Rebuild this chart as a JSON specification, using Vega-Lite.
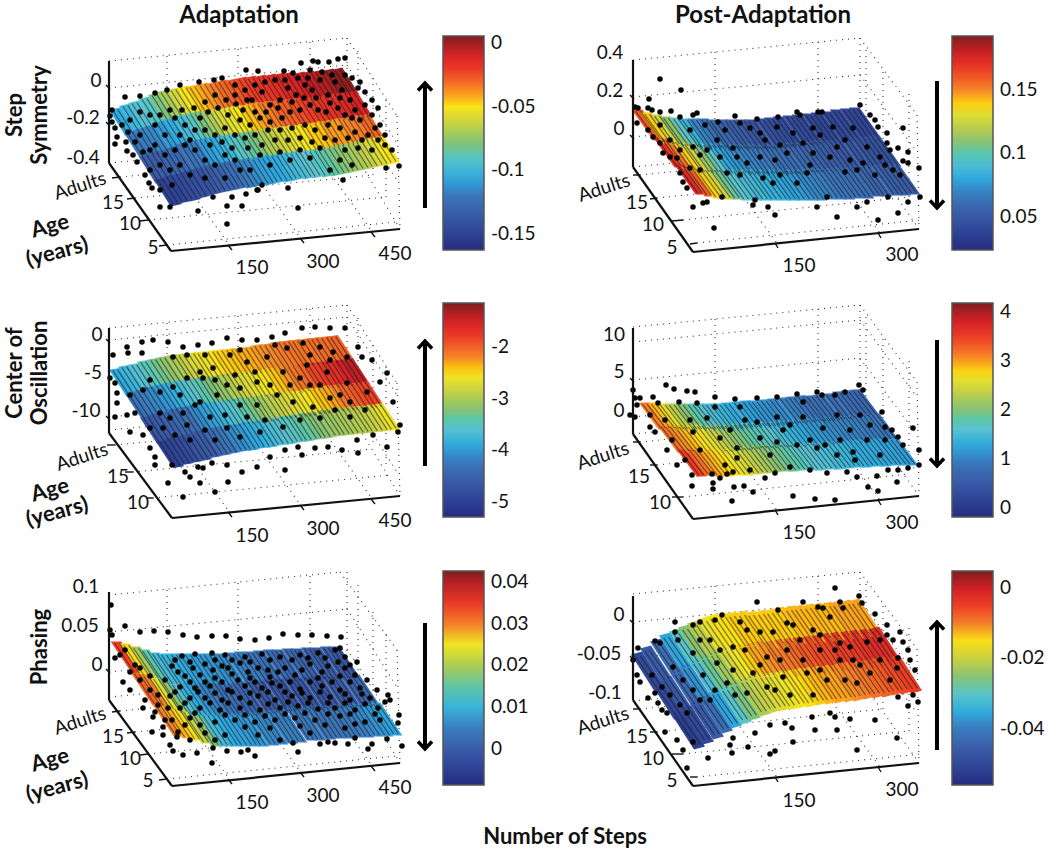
{"$schema":"https://vega.github.io/schema/vega-lite/v6.json","width":1050,"height":851,"autosize":{"type":"fit","contains":"padding"},"padding":0,"background":"white","config":{"view":{"stroke":null}},
"datasets":{
"s1":[{"x":123,"y":122,"v":-0.105},{"x":138,"y":145,"v":-0.12},{"x":153,"y":169,"v":-0.135},{"x":168,"y":192,"v":-0.15},{"x":133,"y":118,"v":-0.1},{"x":148,"y":142,"v":-0.118},{"x":162,"y":165,"v":-0.133},{"x":177,"y":189,"v":-0.148},{"x":142,"y":115,"v":-0.095},{"x":157,"y":139,"v":-0.115},{"x":172,"y":163,"v":-0.13},{"x":187,"y":187,"v":-0.145},{"x":152,"y":111,"v":-0.09},{"x":167,"y":135,"v":-0.11},{"x":181,"y":160,"v":-0.127},{"x":196,"y":184,"v":-0.142},{"x":162,"y":107,"v":-0.08},{"x":177,"y":132,"v":-0.105},{"x":191,"y":156,"v":-0.122},{"x":206,"y":181,"v":-0.14},{"x":171,"y":104,"v":-0.07},{"x":186,"y":129,"v":-0.098},{"x":200,"y":154,"v":-0.118},{"x":215,"y":179,"v":-0.135},{"x":181,"y":102,"v":-0.06},{"x":196,"y":127,"v":-0.09},{"x":210,"y":152,"v":-0.11},{"x":225,"y":177,"v":-0.13},{"x":191,"y":100,"v":-0.05},{"x":205,"y":125,"v":-0.08},{"x":220,"y":150,"v":-0.105},{"x":234,"y":175,"v":-0.125},{"x":200,"y":99,"v":-0.045},{"x":215,"y":124,"v":-0.07},{"x":229,"y":149,"v":-0.1},{"x":244,"y":174,"v":-0.12},{"x":210,"y":97,"v":-0.04},{"x":224,"y":122,"v":-0.06},{"x":239,"y":147,"v":-0.09},{"x":253,"y":172,"v":-0.115},{"x":220,"y":96,"v":-0.035},{"x":234,"y":121,"v":-0.055},{"x":249,"y":146,"v":-0.085},{"x":263,"y":171,"v":-0.11},{"x":229,"y":94,"v":-0.03},{"x":243,"y":119,"v":-0.05},{"x":258,"y":144,"v":-0.08},{"x":272,"y":169,"v":-0.107},{"x":239,"y":93,"v":-0.027},{"x":253,"y":118,"v":-0.045},{"x":268,"y":143,"v":-0.07},{"x":282,"y":168,"v":-0.105},{"x":249,"y":91,"v":-0.023},{"x":263,"y":116,"v":-0.04},{"x":277,"y":141,"v":-0.065},{"x":291,"y":166,"v":-0.1},{"x":258,"y":90,"v":-0.02},{"x":272,"y":115,"v":-0.035},{"x":287,"y":140,"v":-0.06},{"x":301,"y":165,"v":-0.097},{"x":268,"y":89,"v":-0.018},{"x":282,"y":114,"v":-0.03},{"x":296,"y":139,"v":-0.055},{"x":310,"y":164,"v":-0.093},{"x":278,"y":88,"v":-0.015},{"x":292,"y":113,"v":-0.028},{"x":306,"y":138,"v":-0.05},{"x":320,"y":163,"v":-0.09},{"x":287,"y":87,"v":-0.012},{"x":301,"y":112,"v":-0.025},{"x":315,"y":137,"v":-0.047},{"x":329,"y":162,"v":-0.085},{"x":297,"y":86,"v":-0.01},{"x":311,"y":111,"v":-0.022},{"x":325,"y":135,"v":-0.045},{"x":339,"y":160,"v":-0.08},{"x":307,"y":86,"v":-0.008},{"x":321,"y":110,"v":-0.02},{"x":334,"y":134,"v":-0.04},{"x":348,"y":158,"v":-0.075},{"x":316,"y":85,"v":-0.005},{"x":330,"y":109,"v":-0.017},{"x":344,"y":132,"v":-0.04},{"x":358,"y":156,"v":-0.07},{"x":326,"y":84,"v":-0.003},{"x":340,"y":107,"v":-0.015},{"x":353,"y":131,"v":-0.037},{"x":367,"y":154,"v":-0.065},{"x":336,"y":83,"v":0},{"x":350,"y":106,"v":-0.012},{"x":363,"y":129,"v":-0.035},{"x":377,"y":152,"v":-0.058},{"x":345,"y":82,"v":0.003},{"x":359,"y":105,"v":-0.01},{"x":372,"y":128,"v":-0.03},{"x":386,"y":150,"v":-0.05}],
"s2":[{"x":648,"y":125,"v":0.16},{"x":669,"y":152,"v":0.17},{"x":690,"y":179,"v":0.175},{"x":657,"y":128,"v":0.14},{"x":678,"y":154,"v":0.155},{"x":699,"y":181,"v":0.16},{"x":667,"y":130,"v":0.125},{"x":688,"y":156,"v":0.14},{"x":708,"y":183,"v":0.14},{"x":676,"y":132,"v":0.11},{"x":697,"y":158,"v":0.125},{"x":718,"y":184,"v":0.125},{"x":686,"y":133,"v":0.095},{"x":706,"y":158,"v":0.11},{"x":727,"y":184,"v":0.105},{"x":695,"y":134,"v":0.085},{"x":716,"y":159,"v":0.095},{"x":736,"y":185,"v":0.095},{"x":704,"y":134,"v":0.07},{"x":725,"y":159,"v":0.08},{"x":746,"y":185,"v":0.09},{"x":714,"y":134,"v":0.065},{"x":734,"y":159,"v":0.075},{"x":755,"y":185,"v":0.088},{"x":723,"y":135,"v":0.06},{"x":744,"y":160,"v":0.072},{"x":764,"y":185,"v":0.085},{"x":733,"y":135,"v":0.056},{"x":753,"y":160,"v":0.07},{"x":774,"y":185,"v":0.083},{"x":742,"y":135,"v":0.053},{"x":762,"y":160,"v":0.068},{"x":783,"y":185,"v":0.08},{"x":752,"y":135,"v":0.05},{"x":772,"y":160,"v":0.066},{"x":792,"y":185,"v":0.078},{"x":761,"y":135,"v":0.048},{"x":781,"y":160,"v":0.064},{"x":802,"y":185,"v":0.075},{"x":771,"y":134,"v":0.046},{"x":791,"y":160,"v":0.062},{"x":811,"y":185,"v":0.072},{"x":780,"y":133,"v":0.044},{"x":800,"y":158,"v":0.06},{"x":820,"y":184,"v":0.07},{"x":789,"y":132,"v":0.043},{"x":810,"y":158,"v":0.058},{"x":830,"y":184,"v":0.068},{"x":799,"y":131,"v":0.042},{"x":819,"y":157,"v":0.056},{"x":839,"y":184,"v":0.066},{"x":808,"y":130,"v":0.041},{"x":828,"y":156,"v":0.054},{"x":848,"y":183,"v":0.064},{"x":818,"y":129,"v":0.04},{"x":838,"y":156,"v":0.052},{"x":858,"y":183,"v":0.062},{"x":827,"y":128,"v":0.04},{"x":847,"y":155,"v":0.05},{"x":867,"y":181,"v":0.06},{"x":837,"y":127,"v":0.04},{"x":857,"y":154,"v":0.049},{"x":876,"y":181,"v":0.058},{"x":846,"y":125,"v":0.04},{"x":866,"y":152,"v":0.048},{"x":886,"y":180,"v":0.056},{"x":856,"y":124,"v":0.04},{"x":876,"y":152,"v":0.047},{"x":895,"y":180,"v":0.054},{"x":865,"y":123,"v":0.04},{"x":885,"y":151,"v":0.046},{"x":904,"y":179,"v":0.052}],
"s3":[{"x":123,"y":382,"v":-3.9},{"x":139,"y":406,"v":-4.3},{"x":154,"y":430,"v":-4.7},{"x":170,"y":454,"v":-5},{"x":132,"y":379,"v":-3.75},{"x":148,"y":403,"v":-4.2},{"x":163,"y":427,"v":-4.6},{"x":179,"y":451,"v":-4.9},{"x":142,"y":377,"v":-3.6},{"x":157,"y":400,"v":-4.1},{"x":173,"y":425,"v":-4.5},{"x":188,"y":449,"v":-4.8},{"x":151,"y":374,"v":-3.45},{"x":167,"y":398,"v":-4},{"x":182,"y":422,"v":-4.4},{"x":198,"y":447,"v":-4.7},{"x":161,"y":372,"v":-3.3},{"x":176,"y":396,"v":-3.85},{"x":192,"y":420,"v":-4.3},{"x":207,"y":444,"v":-4.6},{"x":170,"y":370,"v":-3.15},{"x":186,"y":394,"v":-3.7},{"x":201,"y":418,"v":-4.1},{"x":217,"y":442,"v":-4.4},{"x":180,"y":368,"v":-3},{"x":195,"y":392,"v":-3.55},{"x":211,"y":416,"v":-3.95},{"x":226,"y":440,"v":-4.25},{"x":189,"y":367,"v":-2.85},{"x":205,"y":391,"v":-3.4},{"x":220,"y":415,"v":-3.8},{"x":236,"y":438,"v":-4.1},{"x":199,"y":366,"v":-2.7},{"x":214,"y":390,"v":-3.25},{"x":230,"y":414,"v":-3.65},{"x":245,"y":437,"v":-4},{"x":208,"y":365,"v":-2.6},{"x":223,"y":389,"v":-3.1},{"x":239,"y":412,"v":-3.5},{"x":254,"y":435,"v":-3.9},{"x":218,"y":364,"v":-2.5},{"x":233,"y":387,"v":-2.95},{"x":248,"y":411,"v":-3.35},{"x":264,"y":434,"v":-3.8},{"x":227,"y":363,"v":-2.45},{"x":242,"y":386,"v":-2.8},{"x":258,"y":410,"v":-3.2},{"x":273,"y":432,"v":-3.7},{"x":237,"y":362,"v":-2.4},{"x":252,"y":385,"v":-2.7},{"x":267,"y":409,"v":-3.05},{"x":283,"y":431,"v":-3.6},{"x":246,"y":361,"v":-2.35},{"x":261,"y":384,"v":-2.6},{"x":277,"y":407,"v":-2.9},{"x":292,"y":429,"v":-3.5},{"x":256,"y":360,"v":-2.3},{"x":271,"y":383,"v":-2.5},{"x":286,"y":406,"v":-2.8},{"x":301,"y":428,"v":-3.4},{"x":265,"y":358,"v":-2.25},{"x":280,"y":381,"v":-2.4},{"x":296,"y":405,"v":-2.7},{"x":311,"y":426,"v":-3.3},{"x":275,"y":357,"v":-2.2},{"x":290,"y":380,"v":-2.25},{"x":305,"y":404,"v":-2.6},{"x":320,"y":425,"v":-3.2},{"x":284,"y":355,"v":-2.15},{"x":299,"y":379,"v":-2.1},{"x":315,"y":402,"v":-2.5},{"x":330,"y":423,"v":-3.1},{"x":294,"y":354,"v":-2.1},{"x":309,"y":377,"v":-2},{"x":324,"y":401,"v":-2.4},{"x":339,"y":422,"v":-3.05},{"x":303,"y":353,"v":-2.1},{"x":318,"y":376,"v":-1.85},{"x":333,"y":399,"v":-2.3},{"x":348,"y":421,"v":-3},{"x":313,"y":352,"v":-2.1},{"x":328,"y":375,"v":-1.75},{"x":343,"y":398,"v":-2.15},{"x":358,"y":420,"v":-2.95},{"x":322,"y":351,"v":-2.05},{"x":337,"y":374,"v":-1.65},{"x":352,"y":397,"v":-2},{"x":367,"y":419,"v":-2.9},{"x":332,"y":350,"v":-2.05},{"x":347,"y":373,"v":-1.5},{"x":362,"y":396,"v":-1.9},{"x":377,"y":418,"v":-2.8},{"x":341,"y":349,"v":-2},{"x":356,"y":372,"v":-1.4},{"x":371,"y":395,"v":-1.85},{"x":386,"y":417,"v":-2.6}],
"s4":[{"x":654,"y":416,"v":3.1},{"x":673,"y":439,"v":3.2},{"x":692,"y":463,"v":3.5},{"x":663,"y":416,"v":2.9},{"x":682,"y":439,"v":3.05},{"x":701,"y":462,"v":3.2},{"x":672,"y":417,"v":2.6},{"x":691,"y":439,"v":2.9},{"x":710,"y":463,"v":3},{"x":681,"y":417,"v":2.3},{"x":700,"y":439,"v":2.75},{"x":719,"y":463,"v":2.85},{"x":690,"y":417,"v":2},{"x":709,"y":438,"v":2.6},{"x":728,"y":462,"v":2.75},{"x":700,"y":417,"v":1.8},{"x":719,"y":439,"v":2.4},{"x":738,"y":462,"v":2.6},{"x":709,"y":417,"v":1.6},{"x":728,"y":438,"v":2.2},{"x":747,"y":461,"v":2.45},{"x":718,"y":417,"v":1.5},{"x":737,"y":438,"v":2.05},{"x":756,"y":460,"v":2.3},{"x":727,"y":417,"v":1.4},{"x":746,"y":437,"v":1.9},{"x":765,"y":459,"v":2.15},{"x":736,"y":416,"v":1.3},{"x":755,"y":436,"v":1.8},{"x":774,"y":458,"v":2},{"x":746,"y":415,"v":1.25},{"x":765,"y":436,"v":1.7},{"x":784,"y":458,"v":1.9},{"x":755,"y":414,"v":1.2},{"x":774,"y":435,"v":1.6},{"x":793,"y":457,"v":1.8},{"x":764,"y":414,"v":1.15},{"x":783,"y":435,"v":1.5},{"x":802,"y":457,"v":1.7},{"x":773,"y":413,"v":1.1},{"x":792,"y":434,"v":1.4},{"x":811,"y":457,"v":1.6},{"x":782,"y":412,"v":1.05},{"x":801,"y":433,"v":1.3},{"x":820,"y":456,"v":1.55},{"x":792,"y":411,"v":1},{"x":811,"y":433,"v":1.2},{"x":830,"y":456,"v":1.5},{"x":801,"y":410,"v":0.95},{"x":820,"y":432,"v":1.15},{"x":839,"y":455,"v":1.45},{"x":810,"y":409,"v":0.9},{"x":829,"y":431,"v":1.1},{"x":848,"y":454,"v":1.4},{"x":819,"y":409,"v":0.85},{"x":838,"y":430,"v":1.05},{"x":857,"y":454,"v":1.35},{"x":828,"y":408,"v":0.85},{"x":847,"y":429,"v":1},{"x":866,"y":453,"v":1.3},{"x":838,"y":407,"v":0.8},{"x":857,"y":429,"v":1},{"x":876,"y":453,"v":1.3},{"x":847,"y":405,"v":0.8},{"x":866,"y":428,"v":0.95},{"x":885,"y":452,"v":1.25},{"x":856,"y":404,"v":0.75},{"x":875,"y":427,"v":0.95},{"x":894,"y":452,"v":1.25},{"x":865,"y":403,"v":0.7},{"x":884,"y":427,"v":0.9},{"x":903,"y":452,"v":1.2}],
"s5":[{"x":127,"y":658,"v":0.034},{"x":147,"y":689,"v":0.032},{"x":168,"y":720,"v":0.03},{"x":136,"y":660,"v":0.026},{"x":156,"y":691,"v":0.03},{"x":177,"y":722,"v":0.028},{"x":146,"y":663,"v":0.02},{"x":166,"y":694,"v":0.024},{"x":187,"y":724,"v":0.026},{"x":155,"y":666,"v":0.015},{"x":175,"y":697,"v":0.018},{"x":196,"y":727,"v":0.022},{"x":165,"y":669,"v":0.011},{"x":185,"y":700,"v":0.012},{"x":206,"y":730,"v":0.017},{"x":174,"y":670,"v":0.01},{"x":194,"y":700,"v":0.009},{"x":215,"y":730,"v":0.011},{"x":184,"y":670,"v":0.009},{"x":204,"y":700,"v":0.007},{"x":225,"y":730,"v":0.009},{"x":193,"y":670,"v":0.008},{"x":213,"y":700,"v":0.005},{"x":234,"y":730,"v":0.008},{"x":203,"y":670,"v":0.0075},{"x":223,"y":700,"v":0.004},{"x":244,"y":730,"v":0.0075},{"x":212,"y":670,"v":0.007},{"x":232,"y":700,"v":0.003},{"x":253,"y":730,"v":0.007},{"x":222,"y":670,"v":0.0065},{"x":242,"y":700,"v":0.002},{"x":263,"y":729,"v":0.006},{"x":231,"y":670,"v":0.006},{"x":251,"y":699,"v":0.001},{"x":272,"y":728,"v":0.0055},{"x":241,"y":669,"v":0.0055},{"x":261,"y":698,"v":0},{"x":282,"y":727,"v":0.005},{"x":250,"y":668,"v":0.005},{"x":270,"y":697,"v":0},{"x":291,"y":726,"v":0.005},{"x":260,"y":668,"v":0.004},{"x":280,"y":696,"v":-0.001},{"x":301,"y":724,"v":0.0045},{"x":269,"y":667,"v":0.0035},{"x":289,"y":695,"v":-0.001},{"x":310,"y":724,"v":0.0045},{"x":279,"y":666,"v":0.003},{"x":299,"y":694,"v":-0.001},{"x":320,"y":723,"v":0.004},{"x":288,"y":666,"v":0.002},{"x":308,"y":694,"v":-0.001},{"x":329,"y":722,"v":0.004},{"x":298,"y":665,"v":0.002},{"x":318,"y":693,"v":-0.001},{"x":339,"y":722,"v":0.004},{"x":307,"y":665,"v":0.001},{"x":327,"y":693,"v":-0.001},{"x":348,"y":721,"v":0.0045},{"x":317,"y":664,"v":0.001},{"x":337,"y":692,"v":0},{"x":358,"y":721,"v":0.005},{"x":326,"y":664,"v":0},{"x":346,"y":692,"v":0},{"x":367,"y":720,"v":0.006},{"x":336,"y":663,"v":0},{"x":356,"y":691,"v":0.001},{"x":377,"y":720,"v":0.007},{"x":345,"y":663,"v":-0.001},{"x":365,"y":691,"v":0.002},{"x":386,"y":719,"v":0.008}],
"s6":[{"x":648,"y":671,"v":-0.05},{"x":668,"y":700,"v":-0.05},{"x":688,"y":730,"v":-0.052},{"x":657,"y":665,"v":-0.046},{"x":677,"y":695,"v":-0.047},{"x":697,"y":725,"v":-0.05},{"x":667,"y":658,"v":-0.042},{"x":687,"y":689,"v":-0.043},{"x":707,"y":720,"v":-0.046},{"x":676,"y":652,"v":-0.036},{"x":696,"y":683,"v":-0.038},{"x":716,"y":714,"v":-0.042},{"x":686,"y":648,"v":-0.03},{"x":706,"y":678,"v":-0.032},{"x":725,"y":709,"v":-0.036},{"x":695,"y":644,"v":-0.025},{"x":715,"y":674,"v":-0.027},{"x":735,"y":705,"v":-0.03},{"x":704,"y":640,"v":-0.021},{"x":724,"y":670,"v":-0.023},{"x":744,"y":701,"v":-0.026},{"x":714,"y":636,"v":-0.017},{"x":734,"y":666,"v":-0.019},{"x":754,"y":697,"v":-0.022},{"x":723,"y":633,"v":-0.015},{"x":743,"y":663,"v":-0.016},{"x":763,"y":694,"v":-0.02},{"x":733,"y":632,"v":-0.015},{"x":753,"y":662,"v":-0.014},{"x":773,"y":692,"v":-0.018},{"x":742,"y":631,"v":-0.014},{"x":762,"y":661,"v":-0.012},{"x":782,"y":691,"v":-0.017},{"x":752,"y":630,"v":-0.014},{"x":772,"y":659,"v":-0.011},{"x":792,"y":689,"v":-0.016},{"x":761,"y":630,"v":-0.014},{"x":781,"y":659,"v":-0.01},{"x":801,"y":688,"v":-0.015},{"x":771,"y":629,"v":-0.014},{"x":791,"y":657,"v":-0.009},{"x":811,"y":686,"v":-0.014},{"x":780,"y":628,"v":-0.014},{"x":800,"y":656,"v":-0.008},{"x":820,"y":685,"v":-0.013},{"x":789,"y":626,"v":-0.014},{"x":809,"y":655,"v":-0.007},{"x":829,"y":684,"v":-0.012},{"x":799,"y":625,"v":-0.013},{"x":819,"y":654,"v":-0.006},{"x":839,"y":683,"v":-0.012},{"x":808,"y":624,"v":-0.013},{"x":828,"y":653,"v":-0.006},{"x":848,"y":682,"v":-0.011},{"x":818,"y":623,"v":-0.013},{"x":838,"y":651,"v":-0.005},{"x":858,"y":680,"v":-0.01},{"x":827,"y":622,"v":-0.013},{"x":847,"y":650,"v":-0.005},{"x":867,"y":679,"v":-0.009},{"x":837,"y":621,"v":-0.013},{"x":857,"y":649,"v":-0.004},{"x":877,"y":678,"v":-0.008},{"x":846,"y":620,"v":-0.012},{"x":866,"y":648,"v":-0.003},{"x":886,"y":676,"v":-0.007},{"x":856,"y":619,"v":-0.012},{"x":876,"y":647,"v":-0.002},{"x":895,"y":675,"v":-0.006},{"x":865,"y":618,"v":-0.012},{"x":885,"y":646,"v":-0.002},{"x":905,"y":674,"v":-0.005}],
"dots":[{"x":301,"y":63},{"x":313,"y":61},{"x":318,"y":62},{"x":329,"y":62},{"x":338,"y":59},{"x":345,"y":58},{"x":310,"y":70},{"x":284,"y":71},{"x":293,"y":73},{"x":258,"y":71},{"x":246,"y":70},{"x":222,"y":78},{"x":214,"y":80},{"x":199,"y":82},{"x":180,"y":85},{"x":167,"y":90},{"x":155,"y":93},{"x":140,"y":96},{"x":125,"y":97},{"x":112,"y":110},{"x":110,"y":116},{"x":112,"y":122},{"x":115,"y":128},{"x":117,"y":137},{"x":115,"y":144},{"x":126,"y":142},{"x":127,"y":151},{"x":133,"y":155},{"x":137,"y":162},{"x":145,"y":175},{"x":149,"y":183},{"x":152,"y":188},{"x":160,"y":207},{"x":170,"y":207},{"x":198,"y":211},{"x":227,"y":206},{"x":242,"y":206},{"x":232,"y":197},{"x":258,"y":190},{"x":288,"y":188},{"x":298,"y":208},{"x":343,"y":180},{"x":386,"y":168},{"x":399,"y":166},{"x":227,"y":224},{"x":257,"y":190},{"x":213,"y":197},{"x":246,"y":194},{"x":235,"y":95},{"x":243,"y":110},{"x":252,"y":100},{"x":262,"y":92},{"x":270,"y":105},{"x":280,"y":100},{"x":288,"y":88},{"x":296,"y":95},{"x":305,"y":85},{"x":312,"y":90},{"x":320,"y":80},{"x":328,"y":95},{"x":335,"y":82},{"x":342,"y":90},{"x":350,"y":100},{"x":358,"y":88},{"x":365,"y":105},{"x":372,"y":115},{"x":380,"y":125},{"x":300,"y":110},{"x":310,"y":105},{"x":318,"y":110},{"x":326,"y":112},{"x":338,"y":108},{"x":345,"y":115},{"x":352,"y":118},{"x":360,"y":120},{"x":290,"y":112},{"x":282,"y":118},{"x":270,"y":122},{"x":260,"y":118},{"x":250,"y":125},{"x":240,"y":120},{"x":228,"y":115},{"x":218,"y":108},{"x":208,"y":112},{"x":200,"y":118},{"x":195,"y":130},{"x":205,"y":130},{"x":215,"y":135},{"x":225,"y":128},{"x":235,"y":135},{"x":245,"y":138},{"x":255,"y":135},{"x":268,"y":130},{"x":280,"y":130},{"x":292,"y":128},{"x":305,"y":125},{"x":315,"y":130},{"x":328,"y":125},{"x":340,"y":128},{"x":355,"y":132},{"x":368,"y":135},{"x":378,"y":140},{"x":385,"y":145},{"x":372,"y":150},{"x":358,"y":148},{"x":345,"y":150},{"x":140,"y":135},{"x":150,"y":150},{"x":160,"y":165},{"x":170,"y":170},{"x":180,"y":165},{"x":175,"y":150},{"x":165,"y":135},{"x":155,"y":125},{"x":185,"y":145},{"x":195,"y":150},{"x":205,"y":160},{"x":215,"y":165},{"x":225,"y":155},{"x":235,"y":160},{"x":250,"y":170},{"x":270,"y":165},{"x":290,"y":160},{"x":310,"y":158},{"x":340,"y":160},
{"x":235,"y":85},{"x":245,"y":90},{"x":255,"y":85},{"x":265,"y":82},{"x":275,"y":80},{"x":285,"y":80},{"x":298,"y":78},{"x":308,"y":78},{"x":322,"y":72},{"x":332,"y":75},{"x":345,"y":75},{"x":352,"y":78},{"x":360,"y":82},{"x":365,"y":92},{"x":372,"y":100},{"x":378,"y":108},{"x":355,"y":110},{"x":340,"y":98},{"x":330,"y":103},{"x":316,"y":98},{"x":304,"y":98},{"x":292,"y":102},{"x":278,"y":108},{"x":266,"y":112},{"x":255,"y":112},{"x":247,"y":100},{"x":236,"y":104},{"x":226,"y":100},{"x":215,"y":95},{"x":205,"y":102},{"x":194,"y":108},{"x":182,"y":110},{"x":175,"y":118},{"x":185,"y":125},{"x":170,"y":110},{"x":160,"y":115},{"x":150,"y":115},{"x":140,"y":112},{"x":130,"y":120},{"x":122,"y":125},{"x":128,"y":132},{"x":135,"y":142},{"x":143,"y":152},{"x":155,"y":145},{"x":165,"y":155},{"x":180,"y":135},{"x":190,"y":140},{"x":210,"y":145},{"x":222,"y":142},{"x":232,"y":148},{"x":248,"y":148},{"x":262,"y":145},{"x":275,"y":140},{"x":288,"y":140},{"x":300,"y":138},{"x":312,"y":142},{"x":325,"y":138},{"x":335,"y":140},{"x":348,"y":138},{"x":362,"y":140},{"x":375,"y":128},{"x":385,"y":135},{"x":392,"y":150},{"x":300,"y":150},{"x":320,"y":148},{"x":280,"y":152},{"x":260,"y":155},{"x":240,"y":170},{"x":225,"y":178},{"x":205,"y":178},{"x":190,"y":175},{"x":172,"y":185},{"x":160,"y":190},{"x":150,"y":170},{"x":262,"y":185},{"x":330,"y":170},{"x":352,"y":165},
{"x":660,"y":79},{"x":681,"y":90},{"x":649,"y":99},{"x":635,"y":107},{"x":638,"y":108},{"x":648,"y":108},{"x":652,"y":110},{"x":660,"y":112},{"x":671,"y":111},{"x":693,"y":115},{"x":697,"y":113},{"x":735,"y":116},{"x":680,"y":117},{"x":718,"y":122},{"x":740,"y":123},{"x":757,"y":119},{"x":778,"y":117},{"x":797,"y":112},{"x":800,"y":115},{"x":818,"y":112},{"x":822,"y":112},{"x":860,"y":105},{"x":637,"y":123},{"x":648,"y":130},{"x":653,"y":137},{"x":660,"y":143},{"x":663,"y":153},{"x":670,"y":157},{"x":677,"y":158},{"x":680,"y":173},{"x":683,"y":182},{"x":687,"y":188},{"x":693,"y":207},{"x":703,"y":203},{"x":707,"y":202},{"x":722,"y":197},{"x":753,"y":205},{"x":755,"y":200},{"x":768,"y":207},{"x":775,"y":215},{"x":714,"y":228},{"x":817,"y":207},{"x":837,"y":217},{"x":857,"y":207},{"x":867,"y":202},{"x":878,"y":220},{"x":888,"y":197},{"x":898,"y":213},{"x":908,"y":202},{"x":920,"y":197},{"x":919,"y":168},{"x":908,"y":163},{"x":903,"y":161},{"x":908,"y":152},{"x":898,"y":148},{"x":903,"y":128},{"x":887,"y":133},{"x":875,"y":120},{"x":878,"y":127},{"x":870,"y":115},{"x":887,"y":143},{"x":890,"y":150},{"x":717,"y":140},{"x":733,"y":148},{"x":750,"y":128},{"x":760,"y":133},{"x":777,"y":127},{"x":793,"y":133},{"x":803,"y":143},{"x":813,"y":128},{"x":833,"y":127},{"x":853,"y":128},{"x":867,"y":147},{"x":857,"y":170},{"x":850,"y":160},{"x":830,"y":157},{"x":807,"y":173},{"x":787,"y":153},{"x":773,"y":183},{"x":797,"y":183},{"x":763,"y":178},{"x":747,"y":163},{"x":727,"y":173},{"x":700,"y":170},{"x":693,"y":147},{"x":707,"y":150},{"x":720,"y":157},{"x":737,"y":157},{"x":760,"y":157},{"x":813,"y":153},{"x":837,"y":147},{"x":863,"y":163},{"x":880,"y":157},{"x":893,"y":170},{"x":827,"y":197},{"x":690,"y":130},{"x":705,"y":125},{"x":725,"y":130},{"x":765,"y":140},{"x":780,"y":145},{"x":820,"y":135},{"x":845,"y":140},{"x":775,"y":160},{"x":810,"y":165},{"x":845,"y":172},{"x":875,"y":175},{"x":740,"y":175},{"x":700,"y":155},{"x":690,"y":168},{"x":670,"y":140},{"x":680,"y":150},{"x":885,"y":165},{"x":900,"y":175},{"x":660,"y":125},{"x":780,"y":175},
{"x":127,"y":347},{"x":142,"y":342},{"x":153,"y":340},{"x":168,"y":342},{"x":183,"y":347},{"x":198,"y":345},{"x":212,"y":343},{"x":227,"y":338},{"x":242,"y":340},{"x":257,"y":340},{"x":272,"y":337},{"x":285,"y":333},{"x":302,"y":328},{"x":315,"y":327},{"x":330,"y":328},{"x":345,"y":328},{"x":128,"y":353},{"x":113,"y":355},{"x":142,"y":353},{"x":358,"y":347},{"x":362,"y":357},{"x":372,"y":360},{"x":387,"y":373},{"x":380,"y":382},{"x":393,"y":402},{"x":400,"y":425},{"x":398,"y":432},{"x":387,"y":447},{"x":373,"y":435},{"x":357,"y":440},{"x":342,"y":450},{"x":358,"y":453},{"x":328,"y":447},{"x":315,"y":448},{"x":298,"y":447},{"x":285,"y":450},{"x":302,"y":455},{"x":270,"y":457},{"x":257,"y":467},{"x":242,"y":472},{"x":227,"y":465},{"x":212,"y":463},{"x":198,"y":467},{"x":203,"y":468},{"x":185,"y":472},{"x":190,"y":477},{"x":155,"y":465},{"x":172,"y":465},{"x":168,"y":483},{"x":200,"y":483},{"x":228,"y":482},{"x":215,"y":492},{"x":285,"y":470},{"x":183,"y":497},{"x":115,"y":417},{"x":130,"y":432},{"x":117,"y":403},{"x":117,"y":393},{"x":110,"y":378},{"x":115,"y":383},{"x":127,"y":415},{"x":135,"y":413},{"x":143,"y":435},{"x":150,"y":448},{"x":155,"y":457},{"x":143,"y":390},{"x":160,"y":392},{"x":173,"y":387},{"x":187,"y":378},{"x":203,"y":378},{"x":200,"y":372},{"x":187,"y":355},{"x":173,"y":357},{"x":213,"y":368},{"x":230,"y":355},{"x":247,"y":362},{"x":267,"y":357},{"x":287,"y":348},{"x":303,"y":343},{"x":320,"y":347},{"x":333,"y":352},{"x":347,"y":357},{"x":307,"y":365},{"x":327,"y":372},{"x":347,"y":383},{"x":367,"y":392},{"x":350,"y":402},{"x":330,"y":398},{"x":313,"y":407},{"x":293,"y":402},{"x":277,"y":395},{"x":257,"y":405},{"x":240,"y":388},{"x":227,"y":385},{"x":217,"y":395},{"x":200,"y":402},{"x":183,"y":413},{"x":160,"y":413},{"x":170,"y":418},{"x":150,"y":428},{"x":163,"y":428},{"x":187,"y":425},{"x":210,"y":417},{"x":227,"y":428},{"x":247,"y":417},{"x":260,"y":432},{"x":283,"y":427},{"x":320,"y":418},{"x":350,"y":417},{"x":300,"y":378},{"x":283,"y":372},{"x":257,"y":382},{"x":150,"y":380},{"x":180,"y":395},{"x":195,"y":405},{"x":215,"y":380},{"x":235,"y":375},{"x":255,"y":372},{"x":270,"y":385},{"x":290,"y":385},{"x":310,"y":385},{"x":330,"y":360},{"x":320,"y":385},{"x":340,"y":395},{"x":365,"y":410},{"x":240,"y":405},{"x":225,"y":415},{"x":205,"y":430},{"x":175,"y":435},{"x":190,"y":440},{"x":215,"y":440},{"x":240,"y":437},{"x":265,"y":420},{"x":300,"y":420},{"x":335,"y":410},{"x":130,"y":395},{"x":240,"y":350},{"x":275,"y":345},{"x":310,"y":355},{"x":205,"y":355},
{"x":633,"y":390},{"x":635,"y":398},{"x":640,"y":398},{"x":637,"y":405},{"x":635,"y":417},{"x":630,"y":415},{"x":653,"y":397},{"x":666,"y":385},{"x":674,"y":389},{"x":687,"y":391},{"x":695,"y":392},{"x":697,"y":403},{"x":679,"y":402},{"x":658,"y":403},{"x":715,"y":397},{"x":715,"y":407},{"x":735,"y":399},{"x":757,"y":398},{"x":777,"y":397},{"x":797,"y":394},{"x":817,"y":392},{"x":822,"y":395},{"x":835,"y":395},{"x":845,"y":392},{"x":859,"y":385},{"x":863,"y":390},{"x":803,"y":402},{"x":740,"y":407},{"x":650,"y":427},{"x":655,"y":432},{"x":667,"y":450},{"x":672,"y":440},{"x":677,"y":465},{"x":692,"y":475},{"x":692,"y":486},{"x":712,"y":474},{"x":713,"y":483},{"x":713,"y":489},{"x":720,"y":478},{"x":727,"y":474},{"x":733,"y":472},{"x":734,"y":487},{"x":744,"y":486},{"x":750,"y":470},{"x":765,"y":478},{"x":775,"y":473},{"x":790,"y":467},{"x":793,"y":496},{"x":753,"y":492},{"x":732,"y":501},{"x":815,"y":499},{"x":835,"y":500},{"x":810,"y":470},{"x":827,"y":473},{"x":847,"y":472},{"x":857,"y":477},{"x":868,"y":487},{"x":878,"y":491},{"x":877,"y":476},{"x":888,"y":470},{"x":898,"y":470},{"x":897,"y":482},{"x":908,"y":468},{"x":919,"y":465},{"x":919,"y":450},{"x":903,"y":445},{"x":898,"y":437},{"x":913,"y":428},{"x":892,"y":430},{"x":885,"y":427},{"x":882,"y":412},{"x":853,"y":452},{"x":693,"y":432},{"x":707,"y":418},{"x":720,"y":438},{"x":737,"y":448},{"x":737,"y":458},{"x":757,"y":422},{"x":760,"y":438},{"x":777,"y":417},{"x":777,"y":442},{"x":783,"y":430},{"x":797,"y":445},{"x":803,"y":417},{"x":823,"y":428},{"x":837,"y":415},{"x":840,"y":440},{"x":860,"y":415},{"x":867,"y":440},{"x":837,"y":455},{"x":817,"y":448},{"x":880,"y":455},{"x":690,"y":420},{"x":700,"y":450},{"x":730,"y":430},{"x":745,"y":420},{"x":770,"y":455},{"x":790,"y":425},{"x":810,"y":440},{"x":825,"y":445},{"x":850,"y":430},{"x":855,"y":460},{"x":870,"y":425},{"x":885,"y":440},{"x":725,"y":465},{"x":685,"y":460},{"x":665,"y":420},{"x":650,"y":415},
{"x":125,"y":626},{"x":140,"y":632},{"x":154,"y":631},{"x":168,"y":632},{"x":183,"y":635},{"x":197,"y":637},{"x":212,"y":636},{"x":226,"y":636},{"x":240,"y":639},{"x":255,"y":640},{"x":269,"y":638},{"x":283,"y":634},{"x":298,"y":635},{"x":312,"y":635},{"x":327,"y":636},{"x":341,"y":637},{"x":111,"y":605},{"x":110,"y":630},{"x":112,"y":635},{"x":115,"y":658},{"x":123,"y":682},{"x":130,"y":690},{"x":143,"y":708},{"x":153,"y":717},{"x":163,"y":727},{"x":177,"y":737},{"x":152,"y":732},{"x":163,"y":735},{"x":170,"y":745},{"x":173,"y":751},{"x":183,"y":755},{"x":197,"y":753},{"x":212,"y":763},{"x":213,"y":748},{"x":227,"y":751},{"x":241,"y":752},{"x":248,"y":750},{"x":255,"y":756},{"x":298,"y":752},{"x":293,"y":743},{"x":320,"y":744},{"x":328,"y":742},{"x":335,"y":743},{"x":348,"y":744},{"x":355,"y":738},{"x":372,"y":744},{"x":368,"y":749},{"x":387,"y":739},{"x":402,"y":746},{"x":398,"y":723},{"x":399,"y":715},{"x":390,"y":700},{"x":388,"y":695},{"x":377,"y":690},{"x":367,"y":680},{"x":357,"y":662},{"x":345,"y":657},{"x":340,"y":648},{"x":182,"y":656},{"x":195,"y":654},{"x":212,"y":653},{"x":225,"y":655},{"x":245,"y":657},{"x":262,"y":654},{"x":280,"y":657},{"x":300,"y":655},{"x":318,"y":653},{"x":335,"y":650},{"x":172,"y":666},{"x":205,"y":664},{"x":222,"y":666},{"x":240,"y":663},{"x":258,"y":668},{"x":285,"y":668},{"x":310,"y":664},{"x":328,"y":666},{"x":345,"y":668},{"x":165,"y":680},{"x":185,"y":676},{"x":200,"y":675},{"x":215,"y":678},{"x":232,"y":674},{"x":250,"y":678},{"x":270,"y":677},{"x":295,"y":675},{"x":318,"y":678},{"x":340,"y":676},{"x":355,"y":675},{"x":180,"y":687},{"x":195,"y":688},{"x":210,"y":686},{"x":228,"y":690},{"x":245,"y":686},{"x":262,"y":688},{"x":280,"y":686},{"x":300,"y":689},{"x":322,"y":686},{"x":340,"y":690},{"x":360,"y":688},{"x":170,"y":696},{"x":190,"y":698},{"x":205,"y":698},{"x":222,"y":700},{"x":240,"y":698},{"x":258,"y":696},{"x":275,"y":700},{"x":292,"y":696},{"x":310,"y":698},{"x":330,"y":697},{"x":350,"y":700},{"x":370,"y":698},{"x":158,"y":705},{"x":180,"y":708},{"x":200,"y":708},{"x":220,"y":710},{"x":240,"y":708},{"x":260,"y":710},{"x":280,"y":708},{"x":298,"y":706},{"x":318,"y":709},{"x":335,"y":708},{"x":355,"y":710},{"x":378,"y":708},{"x":172,"y":720},{"x":190,"y":718},{"x":215,"y":722},{"x":235,"y":720},{"x":255,"y":722},{"x":275,"y":720},{"x":295,"y":718},{"x":315,"y":720},{"x":340,"y":716},{"x":365,"y":722},{"x":205,"y":733},{"x":225,"y":735},{"x":258,"y":735},{"x":280,"y":740},{"x":310,"y":733},{"x":345,"y":728},{"x":125,"y":650},{"x":135,"y":665},{"x":140,"y":680},{"x":150,"y":690},{"x":145,"y":700},{"x":155,"y":712},{"x":165,"y":720},{"x":178,"y":732},{"x":190,"y":740},{"x":120,"y":655},
{"x":175,"y":660},{"x":190,"y":662},{"x":215,"y":660},{"x":232,"y":660},{"x":250,"y":662},{"x":270,"y":660},{"x":292,"y":660},{"x":308,"y":658},{"x":325,"y":658},{"x":350,"y":665},{"x":178,"y":672},{"x":193,"y":668},{"x":213,"y":670},{"x":228,"y":668},{"x":248,"y":672},{"x":268,"y":670},{"x":278,"y":672},{"x":302,"y":670},{"x":322,"y":672},{"x":338,"y":662},{"x":190,"y":682},{"x":205,"y":682},{"x":222,"y":682},{"x":238,"y":680},{"x":255,"y":682},{"x":272,"y":683},{"x":290,"y":682},{"x":310,"y":682},{"x":332,"y":682},{"x":350,"y":682},{"x":175,"y":692},{"x":198,"y":692},{"x":215,"y":693},{"x":232,"y":692},{"x":250,"y":693},{"x":268,"y":692},{"x":285,"y":692},{"x":302,"y":693},{"x":320,"y":692},{"x":345,"y":694},{"x":362,"y":694},{"x":185,"y":703},{"x":210,"y":703},{"x":228,"y":703},{"x":250,"y":703},{"x":268,"y":704},{"x":288,"y":702},{"x":308,"y":703},{"x":328,"y":703},{"x":345,"y":703},{"x":365,"y":704},{"x":385,"y":702},{"x":195,"y":713},{"x":225,"y":715},{"x":245,"y":715},{"x":265,"y":716},{"x":285,"y":714},{"x":305,"y":713},{"x":328,"y":714},{"x":350,"y":714},{"x":375,"y":714},{"x":200,"y":725},{"x":245,"y":727},{"x":270,"y":728},{"x":300,"y":726},{"x":325,"y":725},{"x":355,"y":724},{"x":380,"y":720},{"x":140,"y":668},{"x":130,"y":672},{"x":150,"y":676},{"x":158,"y":695},{"x":168,"y":708},{"x":185,"y":725},{"x":215,"y":740},
{"x":835,"y":588},{"x":859,"y":596},{"x":803,"y":602},{"x":757,"y":602},{"x":840,"y":602},{"x":818,"y":607},{"x":823,"y":608},{"x":843,"y":608},{"x":862,"y":603},{"x":778,"y":610},{"x":722,"y":615},{"x":675,"y":622},{"x":700,"y":622},{"x":693,"y":625},{"x":715,"y":620},{"x":638,"y":648},{"x":655,"y":641},{"x":660,"y":643},{"x":675,"y":632},{"x":678,"y":640},{"x":633,"y":660},{"x":637,"y":675},{"x":640,"y":682},{"x":652,"y":675},{"x":648,"y":698},{"x":655,"y":693},{"x":662,"y":687},{"x":658,"y":703},{"x":662,"y":710},{"x":667,"y":713},{"x":665,"y":732},{"x":677,"y":740},{"x":683,"y":750},{"x":693,"y":742},{"x":708,"y":758},{"x":687,"y":768},{"x":730,"y":745},{"x":732,"y":753},{"x":748,"y":747},{"x":770,"y":754},{"x":775,"y":751},{"x":793,"y":742},{"x":755,"y":733},{"x":733,"y":738},{"x":770,"y":725},{"x":785,"y":723},{"x":792,"y":728},{"x":815,"y":730},{"x":837,"y":730},{"x":812,"y":717},{"x":830,"y":713},{"x":835,"y":717},{"x":850,"y":719},{"x":875,"y":720},{"x":857,"y":750},{"x":897,"y":738},{"x":908,"y":706},{"x":918,"y":702},{"x":913,"y":695},{"x":898,"y":697},{"x":915,"y":670},{"x":908,"y":650},{"x":903,"y":642},{"x":900,"y":632},{"x":887,"y":625},{"x":875,"y":614},{"x":887,"y":635},{"x":893,"y":640},{"x":910,"y":660},{"x":898,"y":658},{"x":710,"y":640},{"x":693,"y":653},{"x":673,"y":667},{"x":683,"y":680},{"x":693,"y":690},{"x":687,"y":713},{"x":703,"y":675},{"x":717,"y":663},{"x":733,"y":670},{"x":733,"y":647},{"x":740,"y":622},{"x":760,"y":632},{"x":773,"y":632},{"x":787,"y":623},{"x":813,"y":630},{"x":830,"y":617},{"x":850,"y":647},{"x":867,"y":642},{"x":880,"y":640},{"x":897,"y":668},{"x":870,"y":673},{"x":857,"y":683},{"x":840,"y":660},{"x":820,"y":650},{"x":803,"y":660},{"x":787,"y":650},{"x":767,"y":657},{"x":753,"y":673},{"x":783,"y":677},{"x":807,"y":673},{"x":827,"y":680},{"x":767,"y":687},{"x":747,"y":693},{"x":813,"y":695},{"x":840,"y":643},{"x":853,"y":660},{"x":747,"y":630},{"x":793,"y":625},{"x":727,"y":683},{"x":710,"y":700},{"x":700,"y":640},{"x":720,"y":650},{"x":745,"y":650},{"x":760,"y":665},{"x":780,"y":660},{"x":800,"y":640},{"x":820,"y":635},{"x":835,"y":650},{"x":860,"y":665},{"x":880,"y":660},{"x":890,"y":680},{"x":845,"y":680},{"x":820,"y":670},{"x":775,"y":690},{"x":790,"y":695},{"x":735,"y":695},{"x":715,"y":690},{"x":700,"y":700},{"x":680,"y":705},{"x":670,"y":695}],
"grid":[{"x":109,"y":61,"x2":347,"y2":38},{"x":347,"y":38,"x2":397,"y2":116},{"x":397,"y":116,"x2":400,"y2":229},{"x":109,"y":163,"x2":347,"y2":141},{"x":347,"y":141,"x2":400,"y2":229},{"x":347,"y":38,"x2":347,"y2":141},{"x":109,"y":88,"x2":347,"y2":65},{"x":347,"y":65,"x2":397,"y2":143},{"x":109,"y":125,"x2":347,"y2":102},{"x":347,"y":102,"x2":397,"y2":180},{"x":120,"y":177,"x2":358,"y2":154},{"x":135,"y":198,"x2":373,"y2":175},{"x":148,"y":220,"x2":386,"y2":197},{"x":167,"y":245,"x2":396,"y2":222},{"x":167,"y":158,"x2":230,"y2":246},{"x":238,"y":151,"x2":302,"y2":240},{"x":310,"y":145,"x2":373,"y2":233},{"x":167,"y":56,"x2":167,"y2":158},{"x":238,"y":49,"x2":238,"y2":151},{"x":310,"y":42,"x2":310,"y2":145},{"x":358,"y":154,"x2":358,"y2":49},{"x":373,"y":175,"x2":373,"y2":74},{"x":386,"y":197,"x2":386,"y2":99},
{"x":109,"y":328,"x2":347,"y2":305},{"x":347,"y":305,"x2":397,"y2":383},{"x":397,"y":383,"x2":400,"y2":496},{"x":109,"y":430,"x2":347,"y2":408},{"x":347,"y":408,"x2":400,"y2":496},{"x":347,"y":305,"x2":347,"y2":408},{"x":109,"y":340,"x2":347,"y2":317},{"x":347,"y":317,"x2":397,"y2":395},{"x":109,"y":378,"x2":347,"y2":355},{"x":347,"y":355,"x2":397,"y2":433},{"x":109,"y":417,"x2":347,"y2":394},{"x":347,"y":394,"x2":397,"y2":472},{"x":115,"y":445,"x2":353,"y2":422},{"x":133,"y":472,"x2":371,"y2":449},{"x":153,"y":498,"x2":391,"y2":475},{"x":167,"y":425,"x2":230,"y2":513},{"x":238,"y":418,"x2":302,"y2":507},{"x":310,"y":412,"x2":373,"y2":500},{"x":167,"y":323,"x2":167,"y2":425},{"x":238,"y":316,"x2":238,"y2":418},{"x":310,"y":309,"x2":310,"y2":412},{"x":358,"y":421,"x2":358,"y2":316},{"x":373,"y":442,"x2":373,"y2":341},{"x":386,"y":464,"x2":386,"y2":366},
{"x":109,"y":595,"x2":340,"y2":572},{"x":340,"y":572,"x2":397,"y2":650},{"x":397,"y":650,"x2":400,"y2":763},{"x":109,"y":697,"x2":347,"y2":675},{"x":347,"y":675,"x2":400,"y2":763},{"x":347,"y":572,"x2":347,"y2":675},{"x":109,"y":632,"x2":347,"y2":609},{"x":347,"y":609,"x2":397,"y2":687},{"x":109,"y":672,"x2":347,"y2":649},{"x":347,"y":649,"x2":397,"y2":727},{"x":120,"y":711,"x2":358,"y2":688},{"x":135,"y":732,"x2":373,"y2":709},{"x":148,"y":754,"x2":386,"y2":731},{"x":167,"y":779,"x2":396,"y2":756},{"x":167,"y":692,"x2":230,"y2":780},{"x":238,"y":685,"x2":302,"y2":774},{"x":310,"y":679,"x2":373,"y2":767},{"x":167,"y":590,"x2":167,"y2":692},{"x":238,"y":583,"x2":238,"y2":685},{"x":310,"y":576,"x2":310,"y2":679},{"x":358,"y":688,"x2":358,"y2":583},{"x":373,"y":709,"x2":373,"y2":608},{"x":386,"y":731,"x2":386,"y2":633},
{"x":633,"y":60,"x2":860,"y2":38},{"x":860,"y":38,"x2":917,"y2":115},{"x":917,"y":115,"x2":919,"y2":229},{"x":633,"y":167,"x2":860,"y2":145},{"x":860,"y":145,"x2":919,"y2":229},{"x":860,"y":38,"x2":860,"y2":145},{"x":633,"y":97,"x2":860,"y2":75},{"x":860,"y":75,"x2":917,"y2":152},{"x":633,"y":137,"x2":860,"y2":115},{"x":860,"y":115,"x2":917,"y2":192},{"x":640,"y":175,"x2":866,"y2":152},{"x":657,"y":198,"x2":883,"y2":175},{"x":683,"y":220,"x2":909,"y2":197},{"x":697,"y":243,"x2":921,"y2":220},{"x":715,"y":159,"x2":777,"y2":243},{"x":818,"y":149,"x2":880,"y2":233},{"x":715,"y":52,"x2":715,"y2":159},{"x":818,"y":42,"x2":818,"y2":149},{"x":866,"y":153,"x2":866,"y2":46},{"x":883,"y":175,"x2":883,"y2":69},{"x":909,"y":197,"x2":909,"y2":92},
{"x":633,"y":327,"x2":860,"y2":305},{"x":860,"y":305,"x2":917,"y2":382},{"x":917,"y":382,"x2":919,"y2":496},{"x":633,"y":434,"x2":860,"y2":412},{"x":860,"y":412,"x2":919,"y2":496},{"x":860,"y":305,"x2":860,"y2":412},{"x":633,"y":342,"x2":860,"y2":320},{"x":860,"y":320,"x2":917,"y2":397},{"x":633,"y":380,"x2":860,"y2":358},{"x":860,"y":358,"x2":917,"y2":435},{"x":633,"y":417,"x2":860,"y2":395},{"x":860,"y":395,"x2":917,"y2":472},{"x":640,"y":442,"x2":866,"y2":419},{"x":657,"y":465,"x2":883,"y2":442},{"x":683,"y":497,"x2":909,"y2":474},{"x":715,"y":426,"x2":777,"y2":510},{"x":818,"y":416,"x2":880,"y2":500},{"x":715,"y":319,"x2":715,"y2":426},{"x":818,"y":309,"x2":818,"y2":416},{"x":866,"y":420,"x2":866,"y2":313},{"x":883,"y":442,"x2":883,"y2":336},{"x":909,"y":464,"x2":909,"y2":359},
{"x":633,"y":594,"x2":860,"y2":572},{"x":860,"y":572,"x2":917,"y2":649},{"x":917,"y":649,"x2":919,"y2":763},{"x":633,"y":701,"x2":860,"y2":679},{"x":860,"y":679,"x2":919,"y2":763},{"x":860,"y":572,"x2":860,"y2":679},{"x":633,"y":622,"x2":860,"y2":600},{"x":860,"y":600,"x2":917,"y2":677},{"x":633,"y":658,"x2":860,"y2":636},{"x":860,"y":636,"x2":917,"y2":713},{"x":640,"y":709,"x2":866,"y2":686},{"x":657,"y":732,"x2":883,"y2":709},{"x":683,"y":754,"x2":909,"y2":731},{"x":697,"y":777,"x2":921,"y2":754},{"x":715,"y":693,"x2":777,"y2":777},{"x":818,"y":683,"x2":880,"y2":767},{"x":715,"y":586,"x2":715,"y2":693},{"x":818,"y":576,"x2":818,"y2":683},{"x":866,"y":687,"x2":866,"y2":580},{"x":883,"y":709,"x2":883,"y2":603},{"x":909,"y":731,"x2":909,"y2":626}],
"axes":[{"x":109,"y":61,"x2":109,"y2":163},{"x":109,"y":163,"x2":171,"y2":251},{"x":171,"y":251,"x2":400,"y2":229},{"x":109,"y":328,"x2":109,"y2":433},{"x":109,"y":433,"x2":172,"y2":518},{"x":172,"y":518,"x2":400,"y2":496},{"x":109,"y":592,"x2":109,"y2":700},{"x":109,"y":700,"x2":172,"y2":786},{"x":172,"y":786,"x2":400,"y2":763},{"x":633,"y":60,"x2":633,"y2":167},{"x":633,"y":167,"x2":693,"y2":252},{"x":693,"y":252,"x2":919,"y2":229},{"x":633,"y":328,"x2":633,"y2":434},{"x":633,"y":434,"x2":693,"y2":519},{"x":693,"y":519,"x2":919,"y2":496},{"x":633,"y":596,"x2":633,"y2":700},{"x":633,"y":700,"x2":693,"y2":786},{"x":693,"y":786,"x2":919,"y2":763}],
"ticks":[{"x":112,"y":178,"x2":120,"y2":177},{"x":127,"y":199,"x2":135,"y2":198},{"x":140,"y":221,"x2":148,"y2":220},{"x":159,"y":246,"x2":167,"y2":245},{"x":228,"y":245,"x2":232,"y2":250},{"x":300,"y":238,"x2":304,"y2":243},{"x":371,"y":232,"x2":375,"y2":237},{"x":106,"y":85,"x2":110,"y2":89},{"x":106,"y":122,"x2":110,"y2":126},
{"x":107,"y":445,"x2":115,"y2":445},{"x":125,"y":472,"x2":133,"y2":472},{"x":146,"y":498,"x2":153,"y2":498},{"x":228,"y":512,"x2":232,"y2":517},{"x":300,"y":505,"x2":304,"y2":510},{"x":371,"y":499,"x2":375,"y2":504},{"x":106,"y":339,"x2":110,"y2":343},{"x":106,"y":416,"x2":110,"y2":420},
{"x":112,"y":712,"x2":120,"y2":711},{"x":127,"y":733,"x2":135,"y2":732},{"x":140,"y":755,"x2":148,"y2":754},{"x":159,"y":780,"x2":167,"y2":779},{"x":228,"y":779,"x2":232,"y2":784},{"x":300,"y":772,"x2":304,"y2":777},{"x":371,"y":766,"x2":375,"y2":771},{"x":106,"y":669,"x2":110,"y2":673},
{"x":633,"y":175,"x2":640,"y2":175},{"x":650,"y":199,"x2":657,"y2":198},{"x":672,"y":221,"x2":683,"y2":220},{"x":690,"y":244,"x2":697,"y2":243},{"x":775,"y":243,"x2":778,"y2":248},{"x":878,"y":233,"x2":881,"y2":238},{"x":630,"y":95,"x2":634,"y2":99},{"x":630,"y":135,"x2":634,"y2":139},
{"x":633,"y":442,"x2":640,"y2":442},{"x":650,"y":465,"x2":657,"y2":465},{"x":672,"y":497,"x2":683,"y2":497},{"x":775,"y":510,"x2":778,"y2":515},{"x":878,"y":500,"x2":881,"y2":505},{"x":630,"y":378,"x2":634,"y2":382},{"x":630,"y":415,"x2":634,"y2":419},
{"x":633,"y":709,"x2":640,"y2":709},{"x":650,"y":732,"x2":657,"y2":732},{"x":672,"y":754,"x2":683,"y2":754},{"x":690,"y":777,"x2":697,"y2":777},{"x":775,"y":777,"x2":778,"y2":782},{"x":878,"y":767,"x2":881,"y2":772},{"x":630,"y":620,"x2":634,"y2":624},{"x":630,"y":656,"x2":634,"y2":660}],
"arrows":[{"x":425,"y":208,"x2":425,"y2":86},{"x":937,"y":81,"x2":937,"y2":205},{"x":425,"y":466,"x2":425,"y2":344},{"x":937,"y":340,"x2":937,"y2":463},{"x":425,"y":623,"x2":425,"y2":746},{"x":937,"y":750,"x2":937,"y2":625}],
"headsUp":[{"x":425,"y":84},{"x":425,"y":342},{"x":937,"y":623}],
"headsDown":[{"x":937,"y":207},{"x":937,"y":465},{"x":425,"y":748}],
"tickText":[{"x":96,"y":81,"t":"0"},{"x":83,"y":118,"t":"-0.2"},{"x":83,"y":158,"t":"-0.4"},{"x":113,"y":203,"t":"15"},{"x":130,"y":224,"t":"10"},{"x":153,"y":248,"t":"5"},{"x":252,"y":268,"t":"150"},{"x":323,"y":262,"t":"300"},{"x":395,"y":254,"t":"450"},
{"x":610,"y":53,"t":"0.4"},{"x":610,"y":91,"t":"0.2"},{"x":619,"y":129,"t":"0"},{"x":637,"y":203,"t":"15"},{"x":653,"y":225,"t":"10"},{"x":672,"y":248,"t":"5"},{"x":799,"y":266,"t":"150"},{"x":902,"y":255,"t":"300"},
{"x":97,"y":335,"t":"0"},{"x":93,"y":373,"t":"-5"},{"x":86,"y":411,"t":"-10"},{"x":118,"y":477,"t":"15"},{"x":138,"y":503,"t":"10"},{"x":252,"y":536,"t":"150"},{"x":323,"y":529,"t":"300"},{"x":395,"y":521,"t":"450"},
{"x":614,"y":335,"t":"10"},{"x":619,"y":372,"t":"5"},{"x":619,"y":411,"t":"0"},{"x":639,"y":477,"t":"15"},{"x":660,"y":503,"t":"10"},{"x":799,"y":533,"t":"150"},{"x":902,"y":523,"t":"300"},
{"x":86,"y":587,"t":"0.1"},{"x":80,"y":626,"t":"0.05"},{"x":97,"y":665,"t":"0"},{"x":113,"y":737,"t":"15"},{"x":130,"y":759,"t":"10"},{"x":148,"y":781,"t":"5"},{"x":252,"y":803,"t":"150"},{"x":323,"y":796,"t":"300"},{"x":395,"y":788,"t":"450"},
{"x":619,"y":615,"t":"0"},{"x":599,"y":654,"t":"-0.05"},{"x":605,"y":693,"t":"-0.1"},{"x":637,"y":737,"t":"15"},{"x":653,"y":759,"t":"10"},{"x":672,"y":781,"t":"5"},{"x":799,"y":801,"t":"150"},{"x":902,"y":790,"t":"300"}],
"adults":[{"x":80,"y":186,"t":"Adults"},{"x":604,"y":188,"t":"Adults"},{"x":82,"y":457,"t":"Adults"},{"x":603,"y":456,"t":"Adults"},{"x":80,"y":721,"t":"Adults"},{"x":603,"y":721,"t":"Adults"}],
"ageText":[{"x":50,"y":226,"t":"Age"},{"x":57,"y":252,"t":"(years)"},{"x":50,"y":490,"t":"Age"},{"x":57,"y":512,"t":"(years)"},{"x":50,"y":760,"t":"Age"},{"x":57,"y":787,"t":"(years)"}],
"rowText":[{"x":15,"y":115,"t":"Step"},{"x":40,"y":115,"t":"Symmetry"},{"x":15,"y":373,"t":"Center of"},{"x":40,"y":373,"t":"Oscillation"},{"x":40,"y":647,"t":"Phasing"}],
"titleText":[{"x":239,"y":16,"t":"Adaptation"},{"x":763,"y":16,"t":"Post-Adaptation"}],
"footText":[{"x":565,"y":837,"t":"Number of Steps"}]
},
"layer":[
{"data":{"name":"grid"},"mark":{"type":"rule","strokeDash":[1,5],"strokeWidth":1.1,"color":"#333333"},"encoding":{"x":{"field":"x","type":"quantitative","scale":{"domain":[0,1050],"nice":false,"zero":false},"axis":null},"y":{"field":"y","type":"quantitative","scale":{"domain":[851,0],"nice":false,"zero":false},"axis":null},"x2":{"field":"x2"},"y2":{"field":"y2"}}},
{"data":{"name":"s1"},"mark":{"type":"point","shape":"M-2.7 -14.5L13.9 12.1L2.7 14.5L-13.9 -12.1Z","size":4,"filled":true,"opacity":1},"encoding":{"x":{"field":"x","type":"quantitative","axis":null},"y":{"field":"y","type":"quantitative","axis":null},"color":{"field":"v","type":"quantitative","scale":{"domain":[-0.1626,0.0055],"range":["#252c80","#2f4496","#3a5ca8","#3b74b8","#2fa8de","#5fc4cf","#85c175","#c5ce45","#f7e81c","#f4822a","#ef3e26","#d41f26","#7e1e1e"]},"legend":{"orient":"none","legendX":443,"legendY":36,"title":null,"gradientLength":214,"gradientThickness":41,"gradientStrokeColor":"#555555","gradientStrokeWidth":1.5,"values":[-0.15,-0.1,-0.05,0],"format":"~g","labelExpr":"replace(datum.label,'−','-')","labelFont":"Lato","labelFontSize":19,"labelColor":"#111111","labelOffset":7,"labelOverlap":false}}}},
{"data":{"name":"s2"},"mark":{"type":"point","shape":"M-5.6 -15.5L16.4 15.5L5.6 15.5L-16.4 -15.5Z","size":4,"filled":true,"opacity":1},"encoding":{"x":{"field":"x","type":"quantitative","axis":null},"y":{"field":"y","type":"quantitative","axis":null},"color":{"field":"v","type":"quantitative","scale":{"domain":[0.024,0.1925],"range":["#252c80","#2f4496","#3a5ca8","#3b74b8","#2fa8de","#5fc4cf","#85c175","#c5ce45","#f7e81c","#f4822a","#ef3e26","#d41f26","#7e1e1e"]},"legend":{"orient":"none","legendX":952,"legendY":36,"title":null,"gradientLength":214,"gradientThickness":41,"gradientStrokeColor":"#555555","gradientStrokeWidth":1.5,"values":[0.05,0.1,0.15],"format":"~g","labelFont":"Lato","labelFontSize":19,"labelColor":"#111111","labelOffset":7,"labelOverlap":false}}}},
{"data":{"name":"s3"},"mark":{"type":"point","shape":"M-3.2 -14.1L14 12.3L3.2 14.1L-14 -12.3Z","size":4,"filled":true,"opacity":1},"encoding":{"x":{"field":"x","type":"quantitative","axis":null},"y":{"field":"y","type":"quantitative","axis":null},"color":{"field":"v","type":"quantitative","scale":{"domain":[-5.29,-1.15],"range":["#252c80","#2f4496","#3a5ca8","#3b74b8","#2fa8de","#5fc4cf","#85c175","#c5ce45","#f7e81c","#f4822a","#ef3e26","#d41f26","#7e1e1e"]},"legend":{"orient":"none","legendX":443,"legendY":303,"title":null,"gradientLength":214,"gradientThickness":41,"gradientStrokeColor":"#555555","gradientStrokeWidth":1.5,"values":[-5,-4,-3,-2],"format":"~g","labelExpr":"replace(datum.label,'−','-')","labelFont":"Lato","labelFontSize":19,"labelColor":"#111111","labelOffset":7,"labelOverlap":false}}}},
{"data":{"name":"s4"},"mark":{"type":"point","shape":"M-4.8 -13.8L15.2 13.2L4.8 13.8L-15.2 -13.2Z","size":4,"filled":true,"opacity":1},"encoding":{"x":{"field":"x","type":"quantitative","axis":null},"y":{"field":"y","type":"quantitative","axis":null},"color":{"field":"v","type":"quantitative","scale":{"domain":[-0.18,4.18],"range":["#252c80","#2f4496","#3a5ca8","#3b74b8","#2fa8de","#5fc4cf","#85c175","#c5ce45","#f7e81c","#f4822a","#ef3e26","#d41f26","#7e1e1e"]},"legend":{"orient":"none","legendX":952,"legendY":303,"title":null,"gradientLength":214,"gradientThickness":41,"gradientStrokeColor":"#555555","gradientStrokeWidth":1.5,"values":[0,1,2,3,4],"format":"~g","labelFont":"Lato","labelFontSize":19,"labelColor":"#111111","labelOffset":7,"labelOverlap":false}}}},
{"data":{"name":"s5"},"mark":{"type":"point","shape":"M-5.7 -16.5L16.3 16.5L5.7 16.5L-16.3 -16.5Z","size":4,"filled":true,"opacity":1},"encoding":{"x":{"field":"x","type":"quantitative","axis":null},"y":{"field":"y","type":"quantitative","axis":null},"color":{"field":"v","type":"quantitative","scale":{"domain":[-0.0086,0.0426],"range":["#252c80","#2f4496","#3a5ca8","#3b74b8","#2fa8de","#5fc4cf","#85c175","#c5ce45","#f7e81c","#f4822a","#ef3e26","#d41f26","#7e1e1e"]},"legend":{"orient":"none","legendX":443,"legendY":571,"title":null,"gradientLength":214,"gradientThickness":41,"gradientStrokeColor":"#555555","gradientStrokeWidth":1.5,"values":[0,0.01,0.02,0.03,0.04],"format":"~g","labelFont":"Lato","labelFontSize":19,"labelColor":"#111111","labelOffset":7,"labelOverlap":false}}}},
{"data":{"name":"s6"},"mark":{"type":"point","shape":"M-6 -19.5L17 16.5L6 19.5L-17 -16.5Z","size":4,"filled":true,"opacity":1},"encoding":{"x":{"field":"x","type":"quantitative","axis":null},"y":{"field":"y","type":"quantitative","axis":null},"color":{"field":"v","type":"quantitative","scale":{"domain":[-0.0559,0.0048],"range":["#252c80","#2f4496","#3a5ca8","#3b74b8","#2fa8de","#5fc4cf","#85c175","#c5ce45","#f7e81c","#f4822a","#ef3e26","#d41f26","#7e1e1e"]},"legend":{"orient":"none","legendX":952,"legendY":571,"title":null,"gradientLength":214,"gradientThickness":41,"gradientStrokeColor":"#555555","gradientStrokeWidth":1.5,"values":[-0.04,-0.02,0],"format":"~g","labelExpr":"replace(datum.label,'−','-')","labelFont":"Lato","labelFontSize":19,"labelColor":"#111111","labelOffset":7,"labelOverlap":false}}}},
{"data":{"name":"s1"},"mark":{"type":"point","shape":"M-5.2 -12.5L10 11.5M-10 -11.5L5.2 12.5","size":4,"filled":false,"stroke":"#1a1a1a","strokeWidth":1.2,"opacity":0.55},"encoding":{"x":{"field":"x","type":"quantitative","axis":null},"y":{"field":"y","type":"quantitative","axis":null}}},
{"data":{"name":"s2"},"mark":{"type":"point","shape":"M-7.6 -13.8L12.4 13.8M-12.4 -13.8L7.6 13.8","size":4,"filled":false,"stroke":"#1a1a1a","strokeWidth":1.2,"opacity":0.55},"encoding":{"x":{"field":"x","type":"quantitative","axis":null},"y":{"field":"y","type":"quantitative","axis":null}}},
{"data":{"name":"s3"},"mark":{"type":"point","shape":"M-5.4 -12.4L10.2 11.6M-10.2 -11.6L5.4 12.4","size":4,"filled":false,"stroke":"#1a1a1a","strokeWidth":1.2,"opacity":0.55},"encoding":{"x":{"field":"x","type":"quantitative","axis":null},"y":{"field":"y","type":"quantitative","axis":null}}},
{"data":{"name":"s4"},"mark":{"type":"point","shape":"M-6.9 -12L11.7 12M-11.7 -12L6.9 12","size":4,"filled":false,"stroke":"#1a1a1a","strokeWidth":1.2,"opacity":0.6},"encoding":{"x":{"field":"x","type":"quantitative","axis":null},"y":{"field":"y","type":"quantitative","axis":null}}},
{"data":{"name":"s5"},"mark":{"type":"point","shape":"M-7.6 -15L12.4 15M-12.4 -15L7.6 15","size":4,"filled":false,"stroke":"#1a1a1a","strokeWidth":1.2,"opacity":0.55},"encoding":{"x":{"field":"x","type":"quantitative","axis":null},"y":{"field":"y","type":"quantitative","axis":null}}},
{"data":{"name":"s6"},"mark":{"type":"point","shape":"M-7.6 -15L12.4 14.2M-12.4 -14.2L7.6 15","size":4,"filled":false,"stroke":"#1a1a1a","strokeWidth":1.2,"opacity":0.55},"encoding":{"x":{"field":"x","type":"quantitative","axis":null},"y":{"field":"y","type":"quantitative","axis":null}}},
{"data":{"name":"dots"},"mark":{"type":"circle","size":30,"color":"#050505","opacity":1},"encoding":{"x":{"field":"x","type":"quantitative","axis":null},"y":{"field":"y","type":"quantitative","axis":null}}},
{"data":{"name":"axes"},"mark":{"type":"rule","strokeWidth":2.2,"color":"#111111"},"encoding":{"x":{"field":"x","type":"quantitative","axis":null},"y":{"field":"y","type":"quantitative","axis":null},"x2":{"field":"x2"},"y2":{"field":"y2"}}},
{"data":{"name":"ticks"},"mark":{"type":"rule","strokeWidth":1.4,"color":"#111111"},"encoding":{"x":{"field":"x","type":"quantitative","axis":null},"y":{"field":"y","type":"quantitative","axis":null},"x2":{"field":"x2"},"y2":{"field":"y2"}}},
{"data":{"name":"arrows"},"mark":{"type":"rule","strokeWidth":4,"color":"#000000"},"encoding":{"x":{"field":"x","type":"quantitative","axis":null},"y":{"field":"y","type":"quantitative","axis":null},"x2":{"field":"x2"},"y2":{"field":"y2"}}},
{"data":{"name":"headsUp"},"mark":{"type":"point","shape":"M-7 6.5L0 -1L7 6.5","size":4,"filled":false,"stroke":"#000000","strokeWidth":3.5,"opacity":1},"encoding":{"x":{"field":"x","type":"quantitative","axis":null},"y":{"field":"y","type":"quantitative","axis":null}}},
{"data":{"name":"headsDown"},"mark":{"type":"point","shape":"M-7 -6.5L0 1L7 -6.5","size":4,"filled":false,"stroke":"#000000","strokeWidth":3.5,"opacity":1},"encoding":{"x":{"field":"x","type":"quantitative","axis":null},"y":{"field":"y","type":"quantitative","axis":null}}},
{"data":{"name":"tickText"},"mark":{"type":"text","font":"Lato","fontSize":19,"color":"#111111","align":"center","baseline":"middle"},"encoding":{"x":{"field":"x","type":"quantitative","axis":null},"y":{"field":"y","type":"quantitative","axis":null},"text":{"field":"t"}}},
{"data":{"name":"adults"},"mark":{"type":"text","font":"Lato","fontSize":19,"color":"#111111","align":"center","baseline":"middle","angle":342},"encoding":{"x":{"field":"x","type":"quantitative","axis":null},"y":{"field":"y","type":"quantitative","axis":null},"text":{"field":"t"}}},
{"data":{"name":"ageText"},"mark":{"type":"text","font":"Lato","fontSize":22,"fontWeight":"bold","color":"#111111","align":"center","baseline":"middle","angle":345},"encoding":{"x":{"field":"x","type":"quantitative","axis":null},"y":{"field":"y","type":"quantitative","axis":null},"text":{"field":"t"}}},
{"data":{"name":"rowText"},"mark":{"type":"text","font":"Lato","fontSize":22,"fontWeight":"bold","color":"#111111","align":"center","baseline":"middle","angle":270},"encoding":{"x":{"field":"x","type":"quantitative","axis":null},"y":{"field":"y","type":"quantitative","axis":null},"text":{"field":"t"}}},
{"data":{"name":"titleText"},"mark":{"type":"text","font":"Lato","fontSize":24,"fontWeight":"bold","color":"#111111","align":"center","baseline":"middle"},"encoding":{"x":{"field":"x","type":"quantitative","axis":null},"y":{"field":"y","type":"quantitative","axis":null},"text":{"field":"t"}}},
{"data":{"name":"footText"},"mark":{"type":"text","font":"Lato","fontSize":22,"fontWeight":"bold","color":"#111111","align":"center","baseline":"middle"},"encoding":{"x":{"field":"x","type":"quantitative","axis":null},"y":{"field":"y","type":"quantitative","axis":null},"text":{"field":"t"}}}
],
"resolve":{"scale":{"color":"independent"}}}
